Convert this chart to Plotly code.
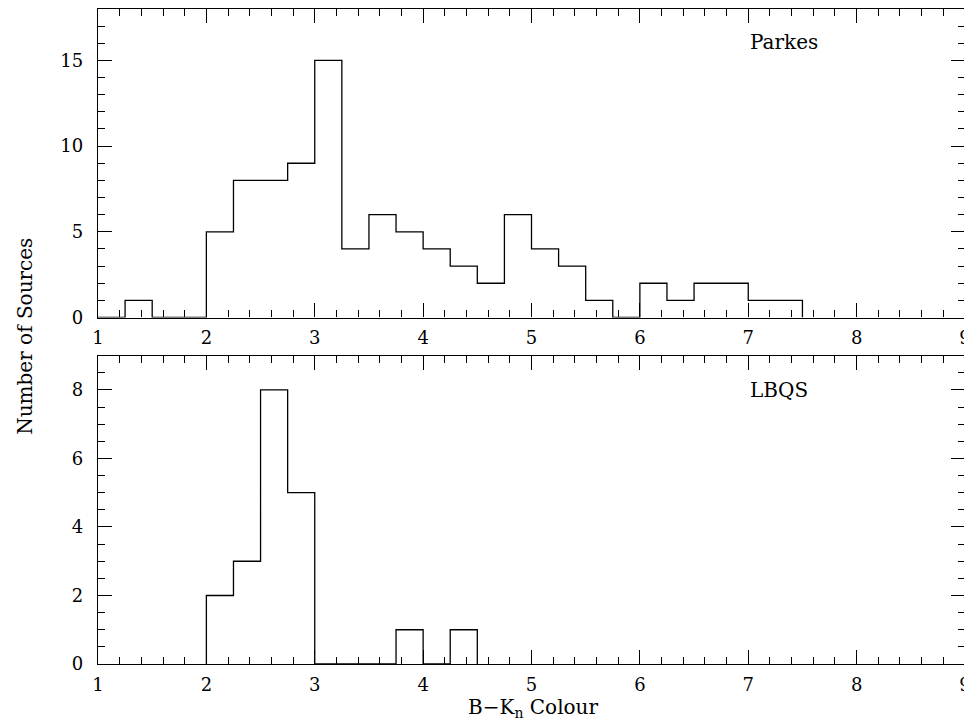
import plotly.graph_objects as go

# Bin lower edges (width 0.25) and counts
bin_width = 0.25
parkes_edges = [1.0, 1.25, 1.5, 1.75, 2.0, 2.25, 2.5, 2.75, 3.0, 3.25, 3.5, 3.75,
                4.0, 4.25, 4.5, 4.75, 5.0, 5.25, 5.5, 5.75, 6.0, 6.25, 6.5, 6.75,
                7.0, 7.25]
parkes_counts = [0, 1, 0, 0, 5, 8, 8, 9, 15, 4, 6, 5,
                 4, 3, 2, 6, 4, 3, 1, 0, 2, 1, 2, 2,
                 1, 1]

lbqs_edges = [2.0, 2.25, 2.5, 2.75, 3.0, 3.25, 3.5, 3.75, 4.0, 4.25]
lbqs_counts = [2, 3, 8, 5, 0, 0, 0, 1, 0, 1]

x_ticks = [1, 2, 3, 4, 5, 6, 7, 8, 9]
top_y_ticks = [0, 5, 10, 15]
bot_y_ticks = [0, 2, 4, 6, 8]


def step_xy(edges, counts):
    xs = [edges[0]] + list(edges) + [edges[-1] + bin_width]
    ys = [0] + list(counts) + [0]
    return xs, ys


FONT = "DejaVu Serif"
TICKFONT = dict(family=FONT, size=18, color="black")
LABELFONT = dict(family=FONT, size=20, color="black")

fig = go.Figure()

px, py = step_xy(parkes_edges, parkes_counts)
fig.add_trace(go.Scatter(x=px, y=py, mode="lines", line=dict(shape="hv", color="black", width=1.3),
                         xaxis="x", yaxis="y", showlegend=False, hoverinfo="skip"))
lx, ly = step_xy(lbqs_edges, lbqs_counts)
fig.add_trace(go.Scatter(x=lx, y=ly, mode="lines", line=dict(shape="hv", color="black", width=1.3),
                         xaxis="x2", yaxis="y2", showlegend=False, hoverinfo="skip"))

axis_common = dict(showline=True, linecolor="black", linewidth=1.3, mirror="ticks",
                   ticks="inside", tickcolor="black", tickwidth=1.1, showgrid=False,
                   zeroline=False, tickfont=TICKFONT, ticklen=14, ticklabeloverflow="allow")
minor_common = dict(ticklen=7, ticks="inside", tickcolor="black", tickwidth=1.1)

fig.update_layout(
    width=964, height=712,
    margin=dict(l=90, r=7, t=1, b=56),
    paper_bgcolor="white", plot_bgcolor="white",
    xaxis=dict(**axis_common, domain=[0, 1], range=[1, 9], tickvals=x_ticks,
               minor=dict(dtick=0.2, **minor_common), anchor="y", ticklabelstandoff=4),
    yaxis=dict(**axis_common, domain=[0.529, 1], range=[0, 18], tickvals=top_y_ticks,
               minor=dict(dtick=1, **minor_common), anchor="x", ticklabelstandoff=10),
    xaxis2=dict(**axis_common, domain=[0, 1], range=[1, 9], tickvals=x_ticks,
                minor=dict(dtick=0.2, **minor_common), anchor="y2", ticklabelstandoff=4),
    yaxis2=dict(**axis_common, domain=[0, 0.4707], range=[0, 9], tickvals=bot_y_ticks,
                minor=dict(dtick=0.5, **minor_common), anchor="x2", ticklabelstandoff=10),
    annotations=[
        dict(text="Parkes", x=7.0, xref="x", y=16.05, yref="y", showarrow=False,
             xanchor="left", yanchor="middle", font=LABELFONT),
        dict(text="LBQS", x=7.0, xref="x2", y=8.0, yref="y2", showarrow=False,
             xanchor="left", yanchor="middle", font=LABELFONT),
        dict(text="Number of Sources", xref="paper", yref="paper", x=-0.085, y=0.50,
             textangle=-90, showarrow=False, xanchor="center", yanchor="middle",
             font=LABELFONT),
        dict(text="B\u2212K<sub>n</sub> Colour", xref="paper", yref="paper", x=0.502, y=-0.044,
             showarrow=False, xanchor="center", yanchor="top", font=LABELFONT),
    ],
)

fig.write_html("out.html")
